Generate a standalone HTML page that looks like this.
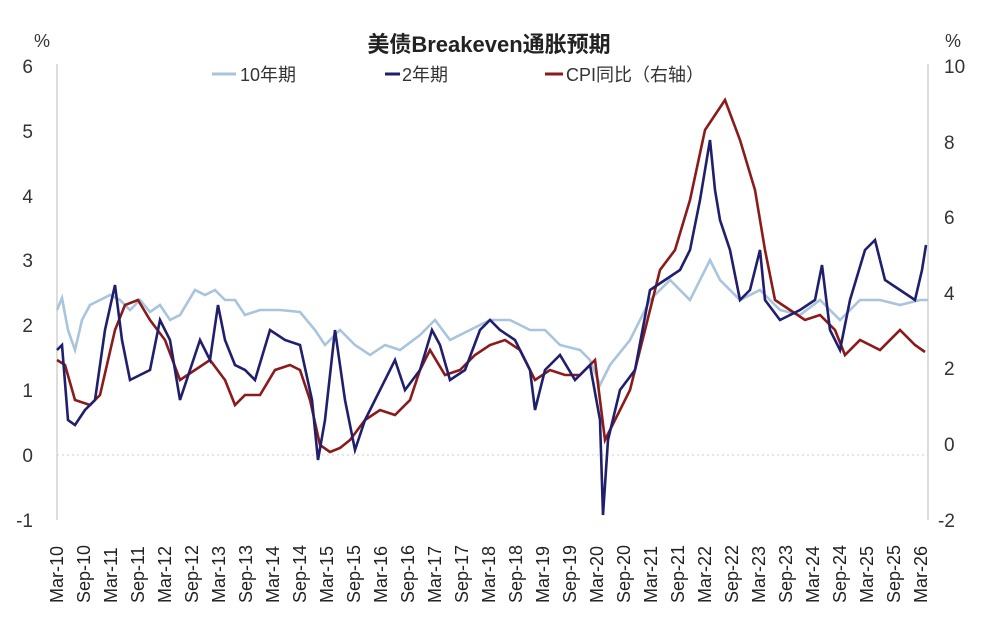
<!DOCTYPE html>
<html><head><meta charset="utf-8"><style>
body{margin:0;background:#fff;}
svg text{font-family:"Liberation Sans","Noto Sans CJK SC",sans-serif;}
</style></head><body>
<svg width="998" height="634" xmlns="http://www.w3.org/2000/svg">
<rect width="998" height="634" fill="#fff"/>
<text x="489" y="52" font-size="22" font-weight="bold" text-anchor="middle" fill="#222">美债Breakeven通胀预期</text>
<text x="42" y="47" font-size="18" text-anchor="middle" fill="#333">%</text>
<text x="953" y="47" font-size="18" text-anchor="middle" fill="#333">%</text>
<line x1="212" y1="74" x2="236" y2="74" stroke="#a9c4dd" stroke-width="3"/>
<text x="240" y="81" font-size="18" fill="#333">10年期</text>
<line x1="385" y1="74" x2="400" y2="74" stroke="#1f1f6e" stroke-width="3"/>
<text x="402" y="81" font-size="18" fill="#333">2年期</text>
<line x1="545" y1="74" x2="563" y2="74" stroke="#8b1a1a" stroke-width="3"/>
<text x="566" y="81" font-size="18" fill="#333">CPI同比（右轴）</text>
<g stroke="#bbb" stroke-width="1"><line x1="57" y1="64" x2="57" y2="520"/><line x1="928" y1="64" x2="928" y2="520"/>
<line x1="57" y1="455" x2="928" y2="455" stroke-dasharray="2,3" stroke="#ccc"/></g>
<g font-size="19" fill="#333" text-anchor="end">
<text x="33" y="73">6</text><text x="33" y="138">5</text><text x="33" y="203">4</text><text x="33" y="267">3</text><text x="33" y="332">2</text><text x="33" y="397">1</text><text x="33" y="462">0</text><text x="33" y="527">-1</text>
</g>
<g font-size="19" fill="#333" text-anchor="start">
<text x="944" y="73">10</text><text x="944" y="149">8</text><text x="944" y="224">6</text><text x="944" y="300">4</text><text x="944" y="375">2</text><text x="944" y="451">0</text><text x="938" y="527">-2</text>
</g>
<polyline fill="none" stroke="#a9c4dd" stroke-width="2.6" points="57,310 62,298 68,330 75,350 82,320 90,305 100,300 110,295 120,300 130,310 140,300 150,312 160,305 170,320 180,315 195,290 205,295 215,290 225,300 235,300 245,315 260,310 280,310 300,312 315,330 325,345 340,330 355,345 370,355 385,345 400,350 420,335 435,320 450,340 470,330 490,320 510,320 530,330 545,330 560,345 580,350 590,360 600,385 610,365 630,340 650,300 670,280 690,300 710,260 720,280 740,300 760,290 780,310 800,315 820,300 840,320 860,300 880,300 900,305 920,300 928,300"/>
<polyline fill="none" stroke="#8b1a1a" stroke-width="2.6" points="57,360 65,365 75,400 90,405 100,395 115,330 125,305 138,300 150,320 165,340 180,380 195,370 210,360 225,380 235,405 245,395 260,395 275,370 290,365 300,370 310,400 320,445 330,452 340,448 350,440 365,420 380,410 395,415 410,400 420,370 430,350 445,375 460,370 475,355 490,345 505,340 520,350 535,380 550,370 565,375 580,375 595,360 605,440 615,420 630,390 645,330 660,270 675,250 690,200 705,130 725,100 740,140 755,190 765,250 775,300 790,310 805,320 820,315 835,330 845,355 860,340 880,350 900,330 915,345 925,352"/>
<polyline fill="none" stroke="#1f1f6e" stroke-width="2.6" points="57,350 62,345 68,420 75,425 85,410 95,400 105,330 115,285 122,340 130,380 140,375 150,370 160,320 170,340 180,400 190,370 200,340 210,360 218,305 225,340 235,365 245,370 255,380 270,330 285,340 300,345 312,400 318,460 325,420 335,330 345,400 355,450 365,420 375,400 385,380 395,360 405,390 420,370 432,330 440,345 450,380 465,370 480,330 490,320 500,330 515,340 530,370 535,410 545,370 560,355 575,380 590,365 600,420 603,515 608,440 620,390 635,370 650,290 665,280 680,270 690,250 700,200 710,140 715,190 720,220 730,250 740,300 750,290 760,250 765,300 780,320 800,310 815,300 822,265 830,330 840,350 850,300 865,250 875,240 885,280 900,290 915,300 922,270 926,245"/>
<g font-size="18" fill="#222">
<text transform="translate(63,603) rotate(-90)">Mar-10</text>
<text transform="translate(90,603) rotate(-90)">Sep-10</text>
<text transform="translate(117,603) rotate(-90)">Mar-11</text>
<text transform="translate(144,603) rotate(-90)">Sep-11</text>
<text transform="translate(171,603) rotate(-90)">Mar-12</text>
<text transform="translate(198,603) rotate(-90)">Sep-12</text>
<text transform="translate(225,603) rotate(-90)">Mar-13</text>
<text transform="translate(252,603) rotate(-90)">Sep-13</text>
<text transform="translate(279,603) rotate(-90)">Mar-14</text>
<text transform="translate(306,603) rotate(-90)">Sep-14</text>
<text transform="translate(333,603) rotate(-90)">Mar-15</text>
<text transform="translate(360,603) rotate(-90)">Sep-15</text>
<text transform="translate(387,603) rotate(-90)">Mar-16</text>
<text transform="translate(414,603) rotate(-90)">Sep-16</text>
<text transform="translate(441,603) rotate(-90)">Mar-17</text>
<text transform="translate(468,603) rotate(-90)">Sep-17</text>
<text transform="translate(495,603) rotate(-90)">Mar-18</text>
<text transform="translate(522,603) rotate(-90)">Sep-18</text>
<text transform="translate(549,603) rotate(-90)">Mar-19</text>
<text transform="translate(576,603) rotate(-90)">Sep-19</text>
<text transform="translate(603,603) rotate(-90)">Mar-20</text>
<text transform="translate(630,603) rotate(-90)">Sep-20</text>
<text transform="translate(657,603) rotate(-90)">Mar-21</text>
<text transform="translate(684,603) rotate(-90)">Sep-21</text>
<text transform="translate(711,603) rotate(-90)">Mar-22</text>
<text transform="translate(738,603) rotate(-90)">Sep-22</text>
<text transform="translate(765,603) rotate(-90)">Mar-23</text>
<text transform="translate(792,603) rotate(-90)">Sep-23</text>
<text transform="translate(819,603) rotate(-90)">Mar-24</text>
<text transform="translate(846,603) rotate(-90)">Sep-24</text>
<text transform="translate(873,603) rotate(-90)">Mar-25</text>
<text transform="translate(900,603) rotate(-90)">Sep-25</text>
<text transform="translate(927,603) rotate(-90)">Mar-26</text>
</g>
</svg>
</body></html>
